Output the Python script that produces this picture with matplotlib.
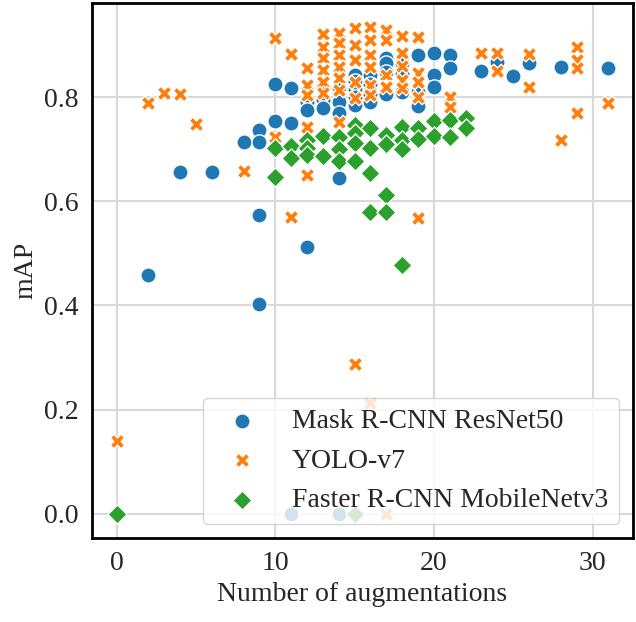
import matplotlib
matplotlib.use("Agg")
import matplotlib.pyplot as plt
import seaborn as sns

# Mask R-CNN ResNet50
mask_x = [2, 4, 6, 8, 9, 9, 9, 9, 10, 10, 11, 11, 11,
          12, 12, 12, 13, 13, 13, 14, 14, 14, 14, 14,
          15, 15, 15, 15, 15, 16, 16, 16, 16, 17, 17, 17, 17,
          18, 18, 18, 19, 19, 19, 20, 20, 20, 21, 21,
          23, 24, 25, 26, 28, 31]
mask_y = [0.458, 0.656, 0.656, 0.713, 0.737, 0.714, 0.574, 0.402, 0.825, 0.754, 0.817, 0.750, 0.0,
          0.790, 0.775, 0.512, 0.820, 0.795, 0.780, 0.820, 0.790, 0.770, 0.645, 0.0,
          0.842, 0.830, 0.815, 0.800, 0.785, 0.842, 0.825, 0.805, 0.790, 0.875, 0.866, 0.848, 0.805,
          0.866, 0.845, 0.810, 0.880, 0.810, 0.782, 0.884, 0.842, 0.820, 0.880, 0.855,
          0.850, 0.867, 0.840, 0.865, 0.858, 0.856]

# YOLO-v7
yolo_x = [0, 2, 3, 4, 5, 8, 10, 10, 11, 11,
          12, 12, 12, 12, 12, 13, 13, 13, 13, 13, 13,
          14, 14, 14, 14, 14, 14, 14, 15, 15, 15, 15, 15, 15,
          16, 16, 16, 16, 16, 16, 16, 17, 17, 17, 17, 17,
          18, 18, 18, 18, 18, 19, 19, 19, 19, 19, 21, 21,
          23, 24, 24, 26, 26, 28, 29, 29, 29, 29, 31]
yolo_y = [0.140, 0.788, 0.808, 0.806, 0.748, 0.659, 0.913, 0.724, 0.882, 0.570,
          0.855, 0.823, 0.804, 0.742, 0.650, 0.922, 0.896, 0.875, 0.852, 0.829, 0.807,
          0.924, 0.903, 0.880, 0.857, 0.836, 0.813, 0.752, 0.932, 0.900, 0.871, 0.829, 0.798, 0.287,
          0.934, 0.909, 0.880, 0.857, 0.823, 0.804, 0.212, 0.928, 0.909, 0.842, 0.819, 0.0,
          0.918, 0.884, 0.860, 0.832, 0.817, 0.915, 0.846, 0.829, 0.800, 0.568, 0.800, 0.781,
          0.884, 0.885, 0.850, 0.882, 0.820, 0.718, 0.896, 0.871, 0.855, 0.769, 0.789]

# Faster R-CNN MobileNetv3
faster_x = [0, 10, 10, 11, 11, 12, 12, 12, 13, 13, 14, 14, 14,
            15, 15, 15, 15, 15, 16, 16, 16, 16, 17, 17, 17, 17,
            18, 18, 18, 18, 19, 19, 20, 20, 21, 21, 22, 22]
faster_y = [0.0, 0.702, 0.647, 0.706, 0.683, 0.718, 0.702, 0.688, 0.726, 0.687, 0.723, 0.700, 0.678,
            0.746, 0.731, 0.712, 0.678, 0.0, 0.740, 0.702, 0.655, 0.580, 0.727, 0.710, 0.612, 0.580,
            0.742, 0.718, 0.700, 0.478, 0.741, 0.720, 0.754, 0.726, 0.756, 0.724, 0.760, 0.741]

sns.set_theme(style="whitegrid")
plt.rcParams['font.family'] = ['Liberation Serif', 'DejaVu Serif']
plt.rcParams['font.size'] = 20
plt.rcParams['grid.linewidth'] = 1.5
plt.rcParams['grid.color'] = '#d9d9d9'

fig, ax = plt.subplots(figsize=(6.36, 6.22), dpi=100)
fig.subplots_adjust(left=92/636, right=633/636, top=1-3/622, bottom=1-538/622)

ax.scatter(mask_x, mask_y, s=120, marker='o', color='#1f77b4',
           edgecolor='white', linewidth=1, label='Mask R-CNN ResNet50')
ax.scatter(yolo_x, yolo_y, s=110, marker='X', color='#ff7f0e',
           edgecolor='white', linewidth=1, label='YOLO-v7')
ax.scatter(faster_x, faster_y, s=190, marker=(4, 0, 0), color='#2ca02c',
           edgecolor='white', linewidth=1, label='Faster R-CNN MobileNetv3')

ax.set_xlabel('Number of augmentations', fontsize=20)
ax.set_ylabel('mAP', fontsize=20)
ax.set_xticks([0, 10, 20, 30])
ax.set_yticks([0.0, 0.2, 0.4, 0.6, 0.8])
ax.tick_params(labelsize=20)
for sp in ax.spines.values():
    sp.set_color('black')
    sp.set_linewidth(2)

ax.legend(loc='lower right', fontsize=20, framealpha=0.8)
fig.savefig('out.png', dpi=100)
